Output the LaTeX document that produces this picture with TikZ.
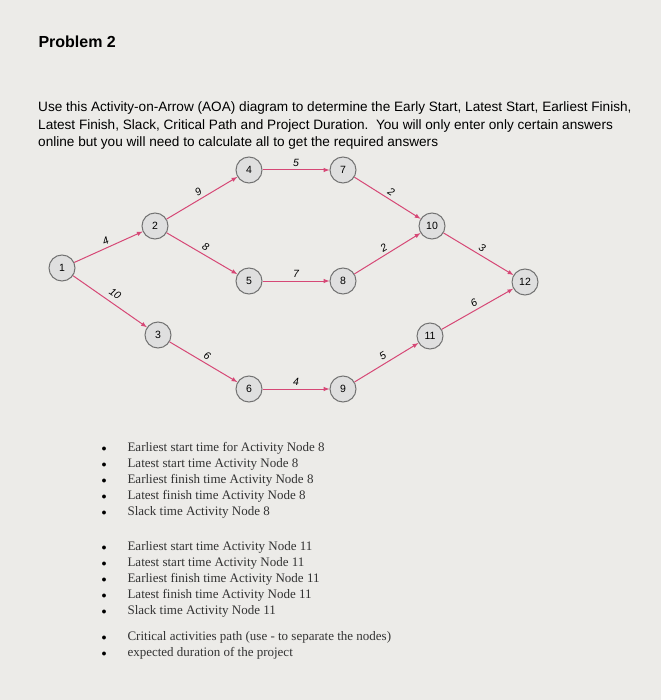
\documentclass[tikz,border=0pt]{standalone}
\usepackage{fontspec}
\setmainfont{Liberation Serif}
\newfontfamily\arialf{Liberation Sans}
\definecolor{bgc}{RGB}{236,235,232}
\definecolor{arrc}{RGB}{214,72,118}
\begin{document}
\begin{tikzpicture}[x=1pt,y=-1pt,
  ev/.style={circle,draw=gray!90!black,fill=gray!25,line width=1pt,minimum size=26pt,inner sep=0pt,font=\arialf\fontsize{10.5}{11}\selectfont},
  act/.style={draw=arrc,line width=1pt,-{latex}},
  lab/.style={midway,above,sloped,inner sep=3pt,font=\arialf\itshape\fontsize{10.5}{11}\selectfont},
  bl/.style={anchor=base west,font=\fontsize{13}{14}\selectfont,text=black!80},
  dot/.style={anchor=base,font=\fontsize{10}{14}\selectfont}]
\fill[bgc] (0,0) rectangle (661,700);
\useasboundingbox (0,0) rectangle (661,700);
\node[anchor=base west,font=\arialf\bfseries\fontsize{16}{18}\selectfont] (title) at (35,48) {Problem 2};
\node[anchor=base west,align=left,inner sep=0pt,font=\arialf\fontsize{13.6}{17.5}\selectfont] (para) at (38,147) {Use this Activity-on-Arrow (AOA) diagram to determine the Early Start, Latest Start, Earliest Finish,\\Latest Finish, Slack, Critical Path and Project Duration.\ \ You will only enter only certain answers\\online but you will need to calculate all to get the required answers};
\node[ev] (n1) at (62,268) {1};
\node[ev] (n2) at (155,226) {2};
\node[ev] (n3) at (158,335) {3};
\node[ev] (n4) at (249,170) {4};
\node[ev] (n5) at (249,281) {5};
\node[ev] (n6) at (249,389) {6};
\node[ev] (n7) at (343,170) {7};
\node[ev] (n8) at (343,281) {8};
\node[ev] (n9) at (343,389) {9};
\node[ev] (n10) at (432,226) {10};
\node[ev] (n11) at (430,336) {11};
\node[ev] (n12) at (525,282) {12};
\draw[act] (n1) -- node[lab]{4} (n2);
\draw[act] (n1) -- node[lab,inner sep=5pt]{10} (n3);
\draw[act] (n2) -- node[lab]{9} (n4);
\draw[act] (n2) -- node[lab]{8} (n5);
\draw[act] (n3) -- node[lab]{6} (n6);
\draw[act] (n4) -- node[lab]{5} (n7);
\draw[act] (n5) -- node[lab]{7} (n8);
\draw[act] (n6) -- node[lab]{4} (n9);
\draw[act] (n7) -- node[lab]{2} (n10);
\draw[act] (n8) -- node[lab]{2} (n10);
\draw[act] (n9) -- node[lab]{5} (n11);
\draw[act] (n10) -- node[lab]{3} (n12);
\draw[act] (n11) -- node[lab]{6} (n12);
\foreach \y/\t [count=\i] in {451/Earliest start time for Activity Node 8,467/Latest start time Activity Node 8,483/Earliest finish time Activity Node 8,499/Latest finish time Activity Node 8,515/Slack time Activity Node 8,550/Earliest start time Activity Node 11,566/Latest start time Activity Node 11,582/Earliest finish time Activity Node 11,598/Latest finish time Activity Node 11,614/Slack time Activity Node 11,640/Critical activities path (use - to separate the nodes),656/expected duration of the project}{
  \node[dot] (d\i) at (104,\y) {$\bullet$};
  \node[bl] (b\i) at (124,\y) {\t};
}
\end{tikzpicture}
\end{document}
